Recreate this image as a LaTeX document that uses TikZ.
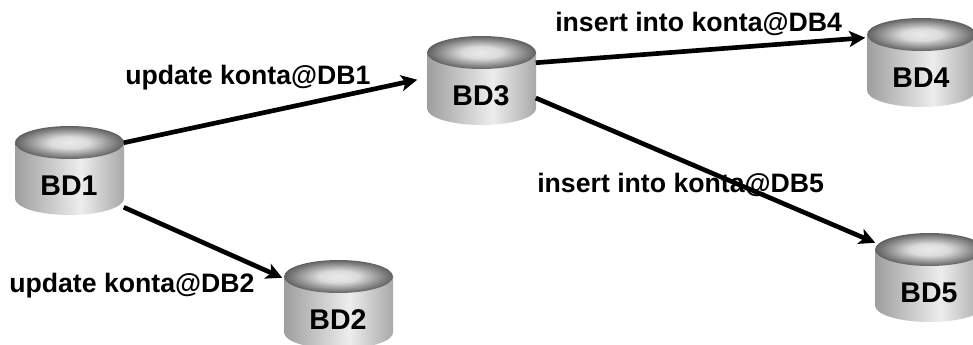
\documentclass[tikz,border=0pt]{standalone}
\usepackage{fontspec}
\setmainfont{Liberation Sans}
\usetikzlibrary{arrows.meta}

\pgfdeclarehorizontalshading{dbside}{100bp}{color(0bp)=(black!38); color(25bp)=(black!38); color(55bp)=(black!7); color(75bp)=(black!34); color(100bp)=(black!34)}
\pgfdeclareradialshading{dbtop}{\pgfpoint{0bp}{0bp}}{color(0bp)=(black!8); color(9bp)=(black!14); color(25bp)=(black!62); color(50bp)=(black!62)}

\tikzset{
  dbbody/.style={shading=dbside},
  dblid/.style={shading=dbtop},
  dbname/.style={font=\fontsize{21.4pt}{24pt}\bfseries, inner sep=0pt, minimum width=81.75pt, minimum height=43.5pt},
  sqltext/.style={font=\fontsize{20pt}{22pt}\bfseries, inner sep=0pt, anchor=base west},
  dblink/.style={line width=3.5pt, -{Stealth[length=12pt,width=12pt,inset=3pt]}}
}

% name, left, top, text
\newcommand{\dbcyl}[4]{
  \shade [dbbody] (#2,#3+16.5) -- (#2,#3+72.5) arc (180:0:54.5 and 16.5) -- (#2+109,#3+16.5) -- cycle;
  \shade [dblid] (#2+54.5,#3+16.5) ellipse (54.5 and 16.5);
  \node [dbname] (#1) at (#2+54,#3+60) {#4};
}

\begin{document}
\begin{tikzpicture}[x=0.75pt,y=0.75pt,yscale=-1]
\clip (0,0) rectangle (973,345);

%Shape: Can
\dbcyl{bd1}{15}{126}{BD1}
\dbcyl{bd2}{284}{260}{BD2}
\dbcyl{bd3}{427}{36}{BD3}
\dbcyl{bd4}{867}{18}{BD4}
\dbcyl{bd5}{875}{233}{BD5}

%Straight Lines
\draw [dblink] ([shift={(0,-14)}]bd1.north east) -- ([shift={(-9,13)}]bd3.north west);
\draw [dblink] ([shift={(0,-8)}]bd1.south east) -- ([shift={(-1,-13)}]bd2.north west);
\draw [dblink] ([shift={(0,-4)}]bd3.north east) -- ([shift={(-1,-11)}]bd4.north west);
\draw [dblink] ([shift={(0,2)}]bd3.east) -- ([shift={(1,-21)}]bd5.north west);

% Text Node
\node [sqltext] (upd1) at (125,85) {update konta@DB1};
% Text Node
\node [sqltext] (upd2) at (9,292) {update konta@DB2};
% Text Node
\node [sqltext] (ins4) at (555,32) {insert into konta@DB4};
% Text Node
\node [sqltext] (ins5) at (537,193) {insert into konta@DB5};

\end{tikzpicture}
\end{document}
